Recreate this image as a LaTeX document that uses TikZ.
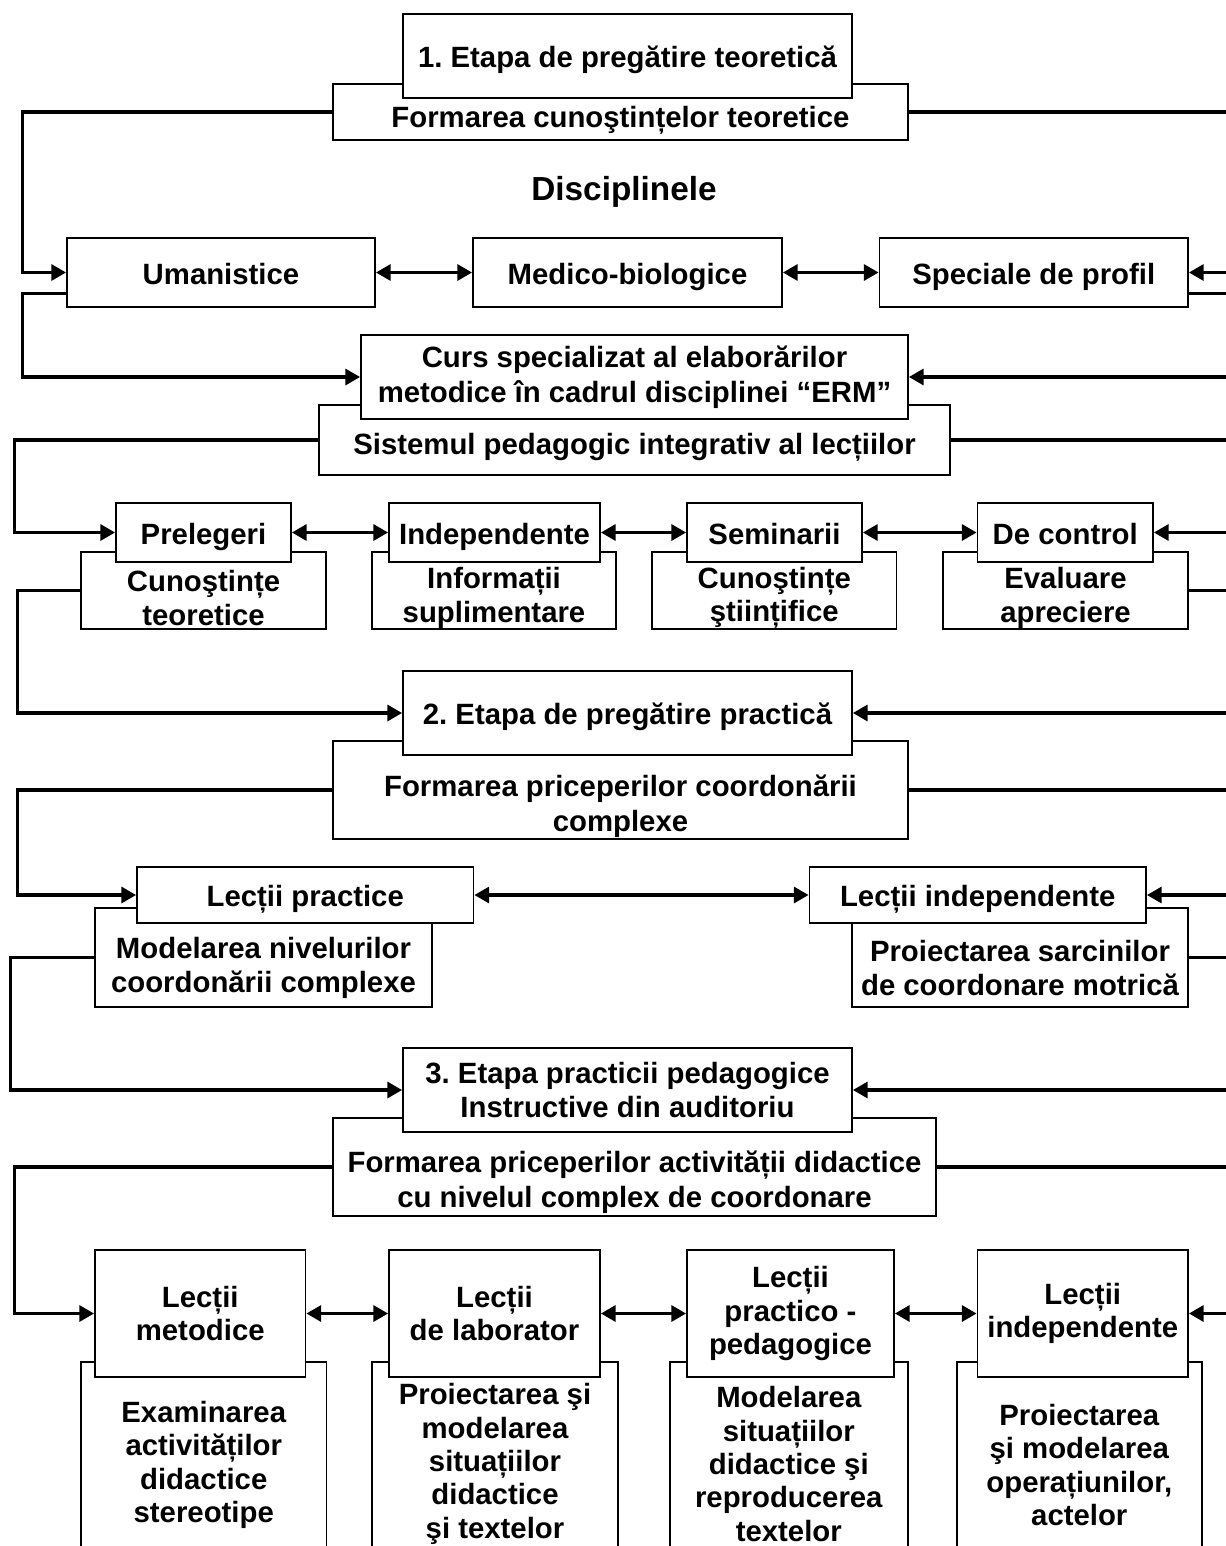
\documentclass[tikz,border=0pt]{standalone}
\usepackage{fontspec}
\setmainfont{Liberation Sans}
\frenchspacing
\usetikzlibrary{arrows.meta}

\tikzset{every picture/.style={line width=0.75pt}}
\tikzset{
  box/.style={draw, fill=white, line width=1.4pt, inner sep=0pt, align=center, font=\bfseries\fontsize{22}{25}\selectfont},
  one/.style={text height=19pt, text depth=1.4pt},
  wide/.style={font=\bfseries\fontsize{22}{26}\selectfont},
  txt/.style={inner sep=0pt, align=center, font=\bfseries\fontsize{22}{25}\selectfont},
  sz/.style 2 args={minimum width=#1*0.75pt, minimum height=#2*0.75pt},
  link/.style={line width=2.3pt},
  tip/.style={arrows={-Triangle[length=11pt,width=12pt]}},
  back/.style={arrows={Triangle[length=11pt,width=12pt]-}},
  both/.style={arrows={Triangle[length=11pt,width=12pt]-Triangle[length=11pt,width=12pt]}}
}

\begin{document}
\begin{tikzpicture}[x=0.75pt,y=0.75pt,yscale=-1,xscale=1]
\useasboundingbox (0,0) rectangle (1226,1546);
\clip (0,0) rectangle (1226,1546);

% Lower panels (behind)
\node [box, sz={575}{56}] (f1) at (620.5,112) {};
\node [box, sz={631}{70}] (sist) at (634.5,440) {};
\node [box, sz={245}{77}] (cunt) at (203.5,590.5) {};
\node [box, sz={244}{77}] (info) at (494,590.5) {};
\node [box, sz={244.5}{77}] (cuns) at (774.25,590.5) {};
\node [box, sz={245}{77}] (eval) at (1065.5,590.5) {};
\node [box, sz={575}{98}] (f2) at (620.5,790) {};
\node [box, sz={337}{99}] (mn) at (263.5,957.5) {};
\node [box, sz={336}{99}] (ps) at (1020,957.5) {};
\node [box, sz={603}{98}] (f3) at (634.5,1167) {};
\node [box, sz={245.5}{238}] (ex) at (203.75,1481) {};
\node [box, sz={246}{238}] (pm) at (495,1481) {};
\node [box, sz={237.6}{238}] (ms) at (788.8,1481) {};
\node [box, sz={244.6}{238}] (pmo) at (1079.3,1481) {};

% Upper boxes
\node [box, one, sz={449}{84}] (e1) at (627.5,56) {1. Etapa de pregătire teoretică};
\node [box, one, sz={308}{69}] (uman) at (221,272.5) {Umanistice};
\node [box, one, sz={309}{69}] (med) at (627.5,272.5) {Medico-biologice};
\node [box, one, sz={308.5}{69}] (spec) at (1033.75,272.5) {Speciale de profil};
\node [box, wide, sz={547}{84}] (curs) at (634.5,377) {Curs specializat al elaborărilor\\metodice în cadrul disciplinei “ERM”};
\node [box, one, sz={175}{59}] (prel) at (203.5,532.5) {Prelegeri};
\node [box, one, sz={211}{59}] (indep) at (494.5,532.5) {Independente};
\node [box, one, sz={175}{59}] (semi) at (774.5,532.5) {Seminarii};
\node [box, one, sz={175.5}{59}] (ctrl) at (1065.25,532.5) {De control};
\node [box, one, sz={449}{84}] (e2) at (627.5,713) {2. Etapa de pregătire practică};
\node [box, one, sz={336.5}{56}] (lp) at (305.25,895) {Lecții practice};
\node [box, one, sz={336.5}{56}] (li) at (977.75,895) {Lecții independente};
\node [box, wide, sz={449}{84}] (e3) at (627.5,1090) {3. Etapa practicii pedagogice\\Instructive din auditoriu};
\node [box, sz={210.5}{127}] (lm) at (200.25,1313.5) {Lecții\\metodice};
\node [box, sz={211}{127}] (ll) at (494.5,1313.5) {Lecții\\de laborator};
\node [box, sz={207}{127}] (lpp) at (790.5,1313.5) {Lecții\\practico -\\pedagogice};
\node [box, sz={210.5}{127}] (lin) at (1082.75,1313.5) {Lecții\\independente};

% Text Node
\node [txt, font=\bfseries\fontsize{25}{28}\selectfont] (disc) at (624,192) {Disciplinele};
% Text Nodes of the lower panels
\node [txt] (f1t) at (620.5,120) {Formarea cunoştințelor teoretice};
\node [txt] (sistt) at (634.5,447) {Sistemul pedagogic integrativ al lecțiilor};
\node [txt] (cuntt) at (203.5,598) {Cunoştințe\\teoretice};
\node [txt] (infot) at (494,598) {Informații\\suplimentare};
\node [txt] (cunst) at (774.25,598) {Cunoştințe\\ştiințifice};
\node [txt] (evalt) at (1065.5,598) {Evaluare\\apreciere};
\node [txt, wide] (f2t) at (620.5,806) {Formarea priceperilor coordonării\\complexe};
\node [txt, wide] (mnt) at (263.5,968) {Modelarea nivelurilor\\coordonării complexe};
\node [txt, wide] (pst) at (1020,968) {Proiectarea sarcinilor\\de coordonare motrică};
\node [txt, wide] (f3t) at (634.5,1182) {Formarea priceperilor activității didactice\\cu nivelul complex de coordonare};
\node [txt] (ext) at (203.75,1465) {Examinarea\\activităților\\didactice\\stereotipe};
\node [txt] (pmt) at (495,1464) {Proiectarea şi\\modelarea\\situațiilor\\didactice\\şi textelor};
\node [txt] (mst) at (788.8,1464) {Modelarea\\situațiilor\\didactice şi\\reproducerea\\textelor};
\node [txt] (pmot) at (1079.3,1465) {Proiectarea\\şi modelarea\\operațiunilor,\\actelor};

% Left returns
\draw [link, tip] (f1.west) -- ++(-310,0) |- (uman.west);
\draw [link, tip] ([yshift=15.4pt]uman.west) -- ++(-44,0) |- (curs.west);
\draw [link, tip] (sist.west) -- ++(-304,0) |- (prel.west);
\draw [link, tip] (cunt.west) -- ++(-63,0) |- (e2.west);
\draw [link, tip] (f2.west) -- ++(-315,0) |- (lp.west);
\draw [link, tip] (mn.west) -- ++(-84,0) |- (e3.west);
\draw [link, tip] (f3.west) -- ++(-318,0) |- (lm.west);

% Right returns
\draw [link] (f1.east) -- +(400,0);
\draw [link, back] (spec.east) -- +(80,0);
\draw [link] ([yshift=15.4pt]spec.east) -- +(80,0);
\draw [link, back] (curs.east) -- +(400,0);
\draw [link] (sist.east) -- +(400,0);
\draw [link, back] (ctrl.east) -- +(200,0);
\draw [link] (eval.east) -- +(200,0);
\draw [link, back] (e2.east) -- +(400,0);
\draw [link] (f2.east) -- +(400,0);
\draw [link, back] (li.east) -- +(200,0);
\draw [link] (ps.east) -- +(200,0);
\draw [link, back] (e3.east) -- +(400,0);
\draw [link] (f3.east) -- +(400,0);
\draw [link, back] (lin.east) -- +(200,0);

% Links between neighbours
\draw [link, both] (uman) -- (med);
\draw [link, both] (med) -- (spec);
\draw [link, both] (prel) -- (indep);
\draw [link, both] (indep) -- (semi);
\draw [link, both] (semi) -- (ctrl);
\draw [link, both] (lp) -- (li);
\draw [link, both] (lm) -- (ll);
\draw [link, both] (ll) -- (lpp);
\draw [link, both] (lpp) -- (lin);

\end{tikzpicture}
\end{document}
